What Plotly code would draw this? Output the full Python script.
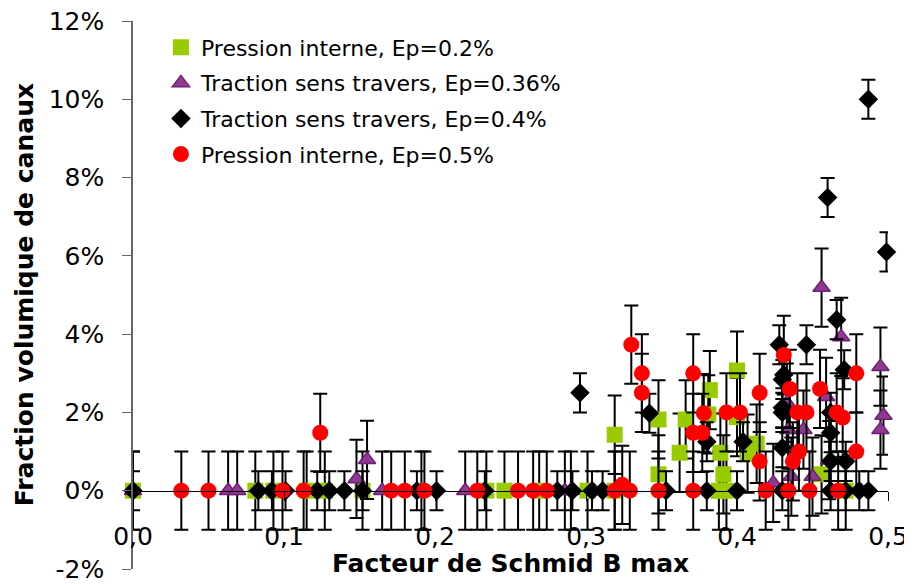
import plotly.graph_objects as go

# Pression interne, Ep=0.2%
x_green = [0.000, 0.081, 0.093, 0.115, 0.127, 0.152, 0.234, 0.246, 0.269, 0.301, 0.319, 0.319,
           0.348, 0.348, 0.362, 0.366, 0.381, 0.382, 0.389, 0.391, 0.388, 0.393, 0.400, 0.400,
           0.407, 0.413, 0.456, 0.472]
y_green = [0, 0, 0, 0, 0, 0, 0, 0, 0, 0, 0, 1.43,
           0.42, 1.82, 0.97, 1.82, 1.95, 2.57, 0.97, 0.42, 0, 0, 3.07, 1.88,
           0.95, 1.2, 0.42, 0]
err_green = 1.0

# Traction sens travers, Ep=0.36%
x_purple = [0.000, 0.063, 0.069, 0.148, 0.155, 0.165, 0.191, 0.220, 0.286, 0.290, 0.424, 0.433,
            0.434, 0.436, 0.444, 0.450, 0.456, 0.459, 0.461, 0.469, 0.495, 0.497, 0.495]
y_purple = [0, 0, 0, 0.3, 0.79, 0, 0, 0, 0, 0, 0.2, 2.25,
            1.56, 0.36, 1.56, 0.36, 5.19, 2.4, 0.78, 3.93, 3.17, 1.92, 1.56]
err_purple = 1.0

# Traction sens travers, Ep=0.4%
x_black = [0.000, 0.083, 0.092, 0.101, 0.122, 0.130, 0.140, 0.152, 0.188, 0.201, 0.233, 0.281,
           0.291, 0.296, 0.304, 0.311, 0.342, 0.353, 0.380, 0.380, 0.400, 0.404, 0.428, 0.430,
           0.430, 0.430, 0.430, 0.430, 0.431, 0.446, 0.460, 0.462, 0.462, 0.462, 0.462, 0.466,
           0.471, 0.472, 0.472, 0.481, 0.487, 0.487, 0.499]
y_black = [0, 0, 0, 0, 0, 0, 0, 0, 0, 0, 0, 0,
           0, 2.5, 0, 0, 1.98, 0, 0, 1.25, 0, 1.25, 3.73, 0,
           1.1, 2.0, 2.12, 2.84, 2.96, 3.73, 7.49, 0, 0.75, 1.48, 2.0, 4.37,
           3.09, 0, 0.75, 0, 0, 10.0, 6.1]
err_black = 0.5

# Pression interne, Ep=0.5%
x_red = [0.032, 0.050, 0.099, 0.113, 0.124, 0.171, 0.180, 0.193, 0.228, 0.255, 0.265, 0.274,
         0.319, 0.324, 0.329, 0.330, 0.337, 0.337, 0.348, 0.371, 0.371, 0.371, 0.377, 0.378,
         0.393, 0.402, 0.415, 0.415, 0.419, 0.431, 0.434, 0.435, 0.437, 0.440, 0.441, 0.446,
         0.448, 0.455, 0.466, 0.467, 0.470, 0.479, 0.479]
y_red = [0, 0, 0, 0, 1.48, 0, 0, 0, 0, 0, 0, 0,
         0, 0.15, 0, 3.73, 3.0, 2.5, 0, 0, 3.0, 1.48, 1.48, 1.98,
         2.0, 2.0, 2.5, 0.75, 0, 3.47, 0, 2.6, 0.75, 2.0, 1.0, 2.0,
         0, 2.6, 2.0, 0, 1.87, 3.0, 1.0]
err_red = 1.0

x_ticks = [0.0, 0.1, 0.2, 0.3, 0.4, 0.5]
x_labels = ["0,0", "0,1", "0,2", "0,3", "0,4", "0,5"]
y_ticks = [-2, 0, 2, 4, 6, 8, 10, 12]
y_labels = ["-2%", "0%", "2%", "4%", "6%", "8%", "10%", "12%"]

FONT = "DejaVu Sans"

fig = go.Figure()


def add_series(x, y, err, name, symbol, color, size, line=None):
    fig.add_trace(go.Scatter(
        x=x, y=y, name=name, mode="markers", legendgroup=name,
        marker=dict(symbol=symbol, color=color, size=size,
                    line=line if line else dict(width=0)),
        error_y=dict(type="constant", value=err, color="black", thickness=2, width=7),
        cliponaxis=False,
    ))


add_series(x_green, y_green, err_green, "Pression interne, Ep=0.2%", "square", "#99cc00", 16)
add_series(x_purple, y_purple, err_purple, "Traction sens travers, Ep=0.36%", "triangle-up",
           "#8e3a8e", 15, dict(color="#6f1f77", width=1.5))
add_series(x_black, y_black, err_black, "Traction sens travers, Ep=0.4%", "diamond", "black", 15)
add_series(x_red, y_red, err_red, "Pression interne, Ep=0.5%", "circle", "#ff0000", 16)

# the page body adds an 8px offset, so the figure is 8px smaller on each side
fig.update_layout(
    template="none",
    width=904, height=576,
    margin=dict(l=125, r=24, t=13, b=15),
    plot_bgcolor="white", paper_bgcolor="white",
    font=dict(family=FONT, color="black"),
    showlegend=True,
    legend=dict(x=0.037, y=0.99, xanchor="left", yanchor="top",
                font=dict(size=22, family=FONT), tracegroupgap=4,
                bgcolor="rgba(0,0,0,0)"),
    xaxis=dict(range=[0, 0.5], anchor="free", position=2 / 14, automargin=False,
               tickvals=x_ticks, ticktext=x_labels, ticklabeloverflow="allow",
               showline=True, linecolor="black", linewidth=1,
               ticks="outside", ticklen=9, tickcolor="black",
               ticklabelstandoff=14,
               tickfont=dict(size=25, family=FONT), showgrid=False, zeroline=False),
    yaxis=dict(range=[-2, 12], domain=[0, 1], automargin=False,
               tickvals=y_ticks, ticktext=y_labels, ticklabeloverflow="allow",
               showline=True, linecolor="#666666", linewidth=1.5,
               ticks="outside", ticklen=9, tickcolor="#666666",
               ticklabelstandoff=13,
               tickfont=dict(size=25, family=FONT), showgrid=False, zeroline=False),
    annotations=[
        dict(text="<b>Facteur de Schmid B max</b>", xref="paper", yref="paper",
             x=0.5, y=0.010, xanchor="center", yanchor="middle", showarrow=False,
             font=dict(size=25, family=FONT)),
        dict(text="<b>Fraction volumique de canaux</b>", xref="paper", yref="paper",
             x=-0.144, y=0.5, xanchor="center", yanchor="middle", showarrow=False,
             textangle=-90, font=dict(size=25, family=FONT)),
    ],
)

fig.write_html("out.html")
